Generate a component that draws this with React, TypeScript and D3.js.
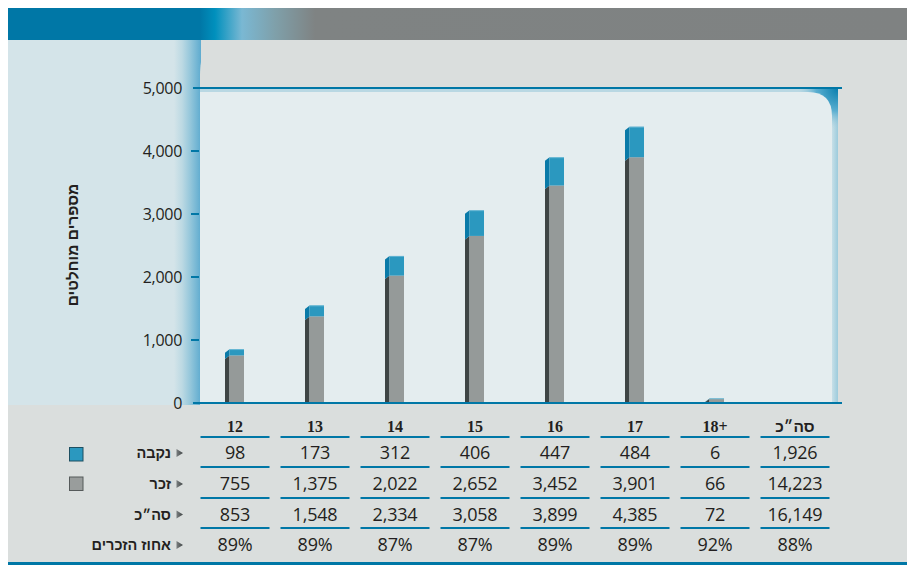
import React from "react";
import * as d3 from "d3";

const categories = ["12", "13", "14", "15", "16", "17", "18+", "סה״כ"];
const female = [98, 173, 312, 406, 447, 484, 6, 1926];
const male = [755, 1375, 2022, 2652, 3452, 3901, 66, 14223];
const total = [853, 1548, 2334, 3058, 3899, 4385, 72, 16149];
const malePct = ["89%", "89%", "87%", "87%", "89%", "89%", "92%", "88%"];
const barCount = 7;
const yTicks = [0, 1000, 2000, 3000, 4000, 5000];
const rowLabels = ["נקבה", "זכר", "סה״כ", "אחוז הזכרים"];
const yTitle = "מספרים מוחלטים";

const BLUE = "#0077a6";
const TXT = "#231f20";
const NUM_FONT = "'Open Sans', 'Noto Sans', sans-serif";
const HEB_FONT = "'Liberation Sans', 'DejaVu Sans', sans-serif";

export default function App() {
  const W = 907;
  const H = 565;
  const y = d3.scaleLinear().domain([0, 5000]).range([403, 88]);
  const x = d3
    .scaleBand<string>()
    .domain(categories)
    .range([195, 835])
    .paddingInner(0.1375)
    .paddingOuter(0.06875);
  const bw = x.bandwidth();
  const cx = (c: string) => (x(c) as number) + bw / 2;
  const fmt = d3.format(",");

  const rowCenters = [453, 484, 514.5, 545];
  const rowLines = [437, 467, 498, 528];
  const rows: string[][] = [
    female.map(fmt),
    male.map(fmt),
    total.map(fmt),
    malePct,
  ];

  const sideW = 4.5;
  const frontW = 14.5;
  const slant = 3.5;

  const sidePoly = (x0: number, yTop: number, yBot: number) =>
    `M${x0},${yTop + slant} L${x0 + sideW},${yTop} L${x0 + sideW},${yBot} L${x0},${Math.min(yBot + slant, 403)} L${x0},${yTop + slant} Z`;

  return (
    <svg
      width={W}
      height={H}
      style={{ position: "fixed", left: 0, top: 0, display: "block" }}
    >
      <defs>
        <linearGradient id="band" x1="8" x2="907" y1="0" y2="0" gradientUnits="userSpaceOnUse">
          <stop offset={(200 - 8) / 899} stopColor="#0077a6" />
          <stop offset={(215 - 8) / 899} stopColor="#0090bd" />
          <stop offset={(242 - 8) / 899} stopColor="#7ab8d3" />
          <stop offset={(275 - 8) / 899} stopColor="#7fa0aa" />
          <stop offset={(315 - 8) / 899} stopColor="#7f8383" />
          <stop offset={1} stopColor="#7f8282" />
        </linearGradient>
        <linearGradient id="strip" x1="174" x2="201" y1="0" y2="0" gradientUnits="userSpaceOnUse">
          <stop offset={0} stopColor="#d4e4e9" />
          <stop offset={0.3} stopColor="#bcd9e3" />
          <stop offset={0.6} stopColor="#95c7db" />
          <stop offset={1} stopColor="#5eabcf" />
        </linearGradient>
        <linearGradient id="rimR" x1="828" x2="838" y1="0" y2="0" gradientUnits="userSpaceOnUse">
          <stop offset={0} stopColor="#e4edef" />
          <stop offset={1} stopColor="#9ccbdc" />
        </linearGradient>
        <radialGradient id="corner" cx="838" cy="89" r="40" gradientUnits="userSpaceOnUse">
          <stop offset={0} stopColor="#0a7fae" />
          <stop offset={0.55} stopColor="#5aaed0" />
          <stop offset={1} stopColor="#a9d1df" stopOpacity={0} />
        </radialGradient>
        <linearGradient id="tri" x1="0" x2="1" y1="0" y2="0">
          <stop offset={0} stopColor="#7a7f80" />
          <stop offset={1} stopColor="#3f4445" />
        </linearGradient>
      </defs>

      {/* background areas */}
      <rect x={8} y={40} width={899} height={525} fill="#dadedd" />
      <rect x={8} y={40} width={193} height={365} fill="#d4e4e9" />
      <rect x={174} y={40} width={27} height={365} fill="url(#strip)" />
      <path d="M200,405 L200,76 C200,56 205,40 219,40 L907,40 L907,405 Z" fill="#dadedd" />

      {/* plot area */}
      <rect x={200} y={89} width={638} height={314} fill="url(#rimR)" />
      <rect x={200} y={89} width={638} height={4} fill="#b9d8e3" />
      <rect x={798} y={89} width={40} height={42} fill="url(#corner)" />
      <path
        d={`M200,92 L808,92 Q832,92 832,116 L832,403 L200,403 Z`}
        fill="#e4edef"
      />

      {/* top band */}
      <rect x={8} y={8} width={899} height={32} fill="url(#band)" />

      {/* bars */}
      {categories.slice(0, barCount).map((c, i) => {
        const c0 = cx(c);
        const xs = c0 - 10;
        const xf = xs + sideW;
        const yM = y(male[i]);
        const yT = y(male[i] + female[i]);
        const y0 = y(0);
        return (
          <g key={c}>
            <path d={sidePoly(xs, yM, y0)} fill="#3e4545" />
            <path d={sidePoly(xs, yT, yM)} fill="#0a7aa8" />
            <rect x={xf} y={yM} width={frontW} height={y0 - yM} fill="#959a99" />
            <rect x={xf} y={yT} width={frontW} height={yM - yT} fill="#2b98bf" />
            <rect x={xf} y={yT} width={frontW} height={0.8} fill="#6cbad6" />
          </g>
        );
      })}

      {/* axis lines */}
      <line x1={193} x2={842} y1={88} y2={88} stroke={BLUE} strokeWidth={2.2} />
      <line x1={193} x2={842} y1={403} y2={403} stroke={BLUE} strokeWidth={2.2} />
      {yTicks.map((t) => (
        <g key={t}>
          {t > 0 && t < 5000 && (
            <line x1={191} x2={199} y1={y(t)} y2={y(t)} stroke={BLUE} strokeWidth={2} />
          )}
          <text
            x={182}
            y={y(t)}
            dy="0.36em"
            textAnchor="end"
            fontFamily={NUM_FONT}
            fontSize={16}
            fill={TXT}
            letterSpacing={-0.3}
          >
            {fmt(t)}
          </text>
        </g>
      ))}

      {/* y title */}
      <text
        transform="translate(73,245) rotate(-90)"
        textAnchor="middle"
        dy="0.35em"
        fontFamily={HEB_FONT}
        fontWeight="bold"
        fontSize={15.5}
        fill={TXT}
      >
        {yTitle}
      </text>

      {/* table header */}
      {categories.map((c) => (
        <g key={"h" + c}>
          <text
            x={cx(c)}
            y={432}
            textAnchor="middle"
            fontFamily={c === "סה״כ" ? HEB_FONT : "'Liberation Serif', 'DejaVu Serif', serif"}
            fontWeight="bold"
            fontSize={c === "סה״כ" ? 15.5 : 16}
            fill={TXT}
          >
            {c}
          </text>
        </g>
      ))}
      {rowLines.map((ly, r) =>
        categories.map((c) => (
          <line
            key={`l${r}-${c}`}
            x1={x(c) as number}
            x2={(x(c) as number) + bw}
            y1={ly}
            y2={ly}
            stroke={BLUE}
            strokeWidth={1.8}
          />
        ))
      )}

      {/* table values */}
      {rows.map((vals, r) =>
        vals.map((v, i) => (
          <text
            key={`v${r}-${i}`}
            x={cx(categories[i])}
            y={rowCenters[r] + 6.4}
            textAnchor="middle"
            fontFamily={NUM_FONT}
            fontSize={18}
            fill={TXT}
            letterSpacing={-0.2}
          >
            {v}
          </text>
        ))
      )}

      {/* row labels */}
      {rowLabels.map((lab, r) => (
        <g key={lab}>
          <text
            x={171}
            y={rowCenters[r] + 5}
            textAnchor="end"
            fontFamily={HEB_FONT}
            fontWeight="bold"
            fontSize={14.5}
            fill={TXT}
          >
            {lab}
          </text>
          <path
            d={`M176.5,${rowCenters[r] - 4} L183,${rowCenters[r]} L176.5,${rowCenters[r] + 4} Z`}
            fill="url(#tri)"
          />
        </g>
      ))}

      {/* legend squares */}
      <rect x={69.5} y={447.5} width={13.5} height={13.5} fill="#2b98bf" stroke="#1d4f61" strokeWidth={1} />
      <rect x={69.5} y={477} width={13.5} height={13.5} fill="#999d9c" stroke="#555a5a" strokeWidth={1} />

      {/* bottom line */}
      <rect x={8} y={562} width={899} height={3} fill={BLUE} />
    </svg>
  );
}
